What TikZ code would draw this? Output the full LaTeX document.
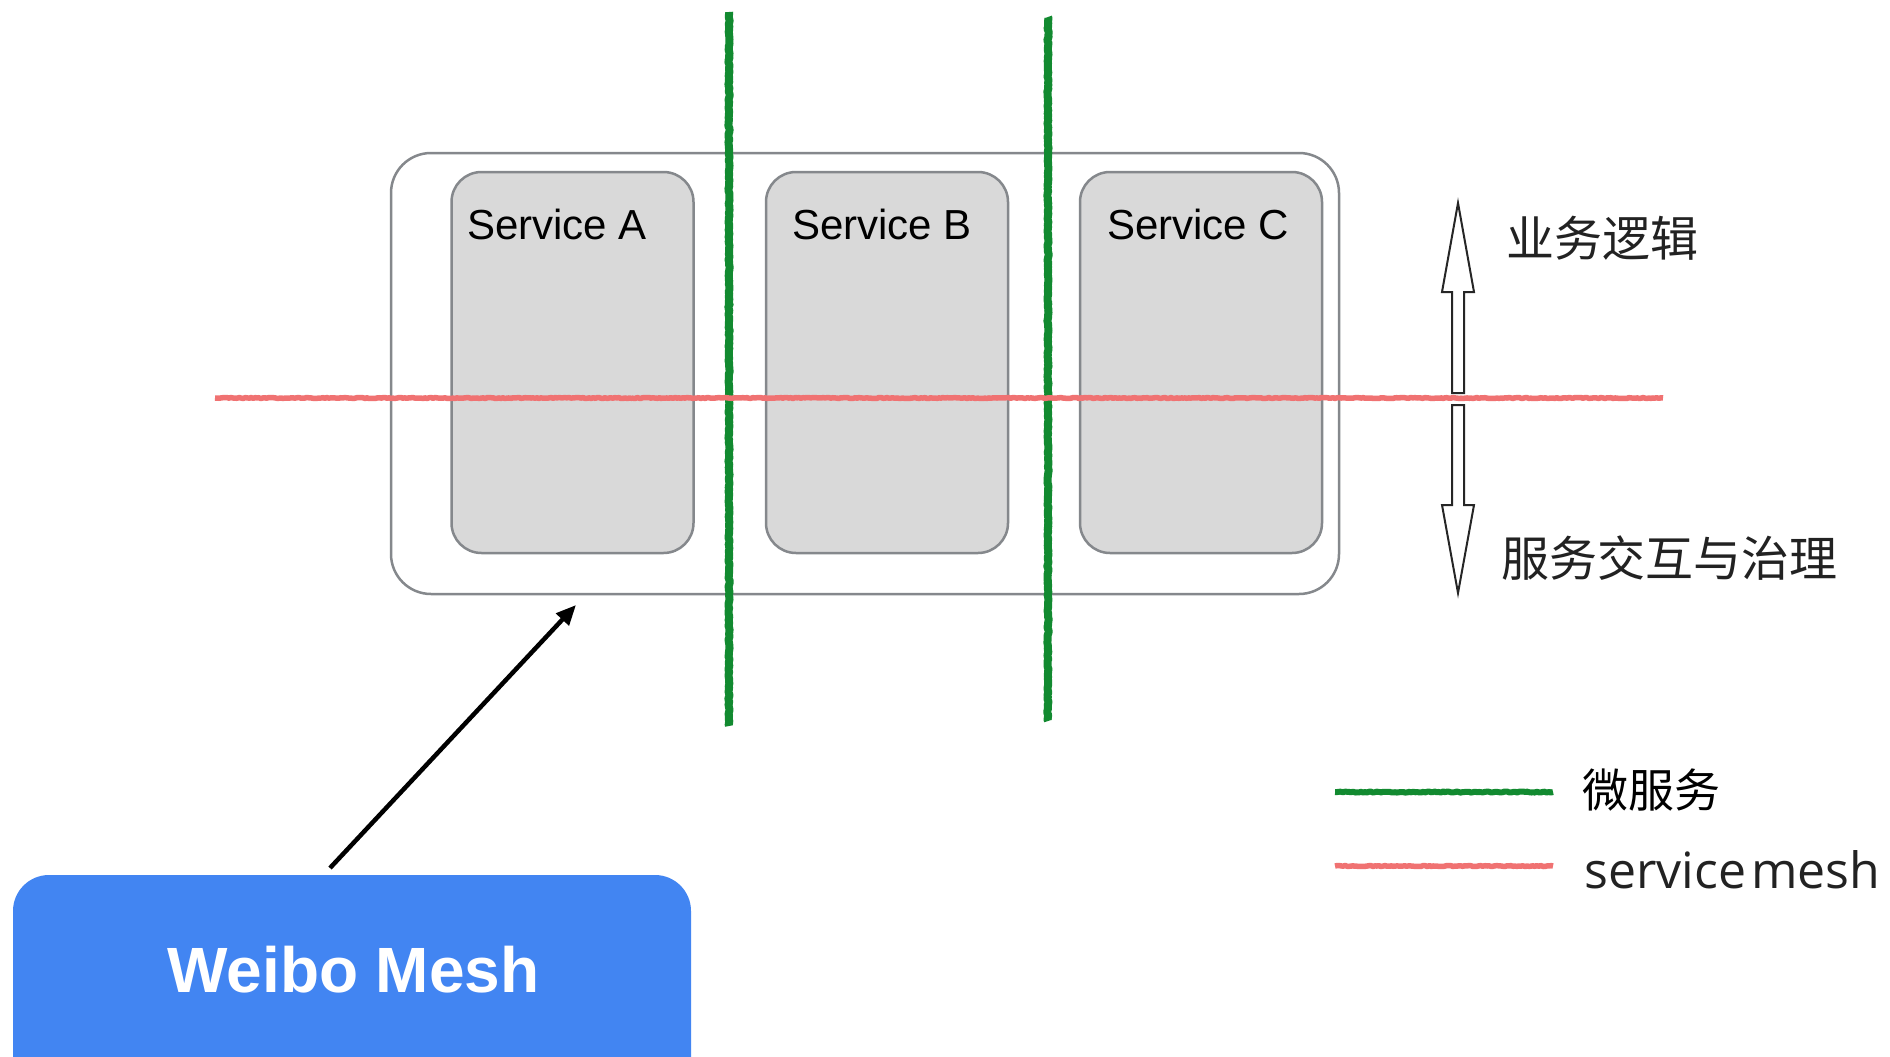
\documentclass[tikz,border=0pt]{standalone}
\usepackage{fontspec}
\setmainfont{Liberation Sans}
\newfontfamily\cjk{Noto Sans CJK SC}
\newfontfamily\legendfont{Open Sans}
\usetikzlibrary{arrows.meta,decorations.pathmorphing}
\definecolor{boxgray}{HTML}{D9D9D9}
\definecolor{edgegray}{HTML}{85888C}
\definecolor{msgreen}{HTML}{128A30}
\definecolor{meshred}{HTML}{F07272}
\definecolor{weiboblue}{HTML}{4285F2}
\definecolor{txtdark}{HTML}{222222}
\begin{document}
\pgfmathsetseed{7}
\begin{tikzpicture}[x=1pt,y=-1pt,
  outerbox/.style={draw=edgegray, line width=2.5pt, rounded corners=40pt, minimum width=948pt, minimum height=441pt, inner sep=0pt},
  svcbox/.style={draw=edgegray, fill=boxgray, line width=2.5pt, rounded corners=30pt, minimum width=242pt, minimum height=381pt, inner sep=0pt},
  svclabel/.style={anchor=base west, font=\fontsize{42}{50}\selectfont, inner sep=0pt},
  greenline/.style={msgreen, line width=8pt, line join=round, decorate, decoration={random steps, segment length=2pt, amplitude=0.6pt}},
  redline/.style={meshred, line width=5.5pt, line join=round, decorate, decoration={random steps, segment length=2pt, amplitude=0.5pt}},
  cjklabel/.style={anchor=west, font=\cjk\fontsize{48}{56}\selectfont, text=txtdark, inner sep=0pt},
  blockarrow/.style={draw=black!85, line width=2pt, fill=white, line join=miter},
  conn/.style={draw=black, line width=4.5pt, -{Triangle[length=20pt,width=17pt]}},
  weibobox/.style={fill=weiboblue, rounded corners=36pt, minimum width=678pt, minimum height=260pt, inner sep=0pt},
  weibotext/.style={anchor=base, text=white, font=\fontsize{64}{72}\selectfont\bfseries, inner sep=0pt}
]
\clip (0,0) rectangle (1890,1057);
\fill[white] (0,0) rectangle (1890,1057);

% boxes
\node[outerbox] (outer) at (865,373.5) {};
\node[svcbox] (svcA) at (572.5,362.5) {};
\node[svcbox] (svcB) at (887,362.5) {};
\node[svcbox] (svcC) at (1201,362.5) {};
\node[svclabel] (labA) at (467,239) {Service A};
\node[svclabel] (labB) at (792,239) {Service B};
\node[svclabel] (labC) at (1107,239) {Service C};

% microservice boundaries
\coordinate (g1top) at (729,12);
\coordinate (g1bot) at (729,726);
\coordinate (g2top) at (1048,17);
\coordinate (g2bot) at (1048,721);
\draw[greenline] (g1top) -- (g1bot);
\draw[greenline] (g2top) -- (g2bot);

% service mesh line
\coordinate (rleft) at (215,398);
\coordinate (rright) at (1663,398);
\draw[redline] (rleft) -- (rright);

% block arrows
\draw[blockarrow] (1458,203) -- (1474,292) -- (1464,292) -- (1464,393) -- (1452,393) -- (1452,292) -- (1442,292) -- cycle;
\draw[blockarrow] (1458,593) -- (1474,505) -- (1464,505) -- (1464,405) -- (1452,405) -- (1452,505) -- (1442,505) -- cycle;
\node[cjklabel] (biz) at (1506,238) {业务逻辑};
\node[cjklabel] (gov) at (1501,558) {服务交互与治理};

% legend
\coordinate (lg1) at (1335,792);
\coordinate (lg2) at (1553,792);
\coordinate (lr1) at (1335,866);
\coordinate (lr2) at (1553,866);
\draw[greenline, line width=6pt] (lg1) -- (lg2);
\draw[redline] (lr1) -- (lr2);
\node[anchor=west, font=\cjk\fontsize{46}{54}\selectfont, text=black, inner sep=0pt] (legms) at (1582,790) {微服务};
\node[anchor=base west, font=\legendfont\fontsize{50}{58}\selectfont, text=txtdark, inner sep=0pt] (legsm) at (1584,888) {service\hspace{5pt}mesh};

% Weibo Mesh
\node[weibobox] (weibo) at (352,1005) {};
\node[weibotext] (weibolab) at (353.5,992) {Weibo Mesh};
\coordinate (arrtail) at (330,868);
\coordinate (arrtip) at (576,605);
\draw[conn] (arrtail) -- (arrtip);
\end{tikzpicture}
\end{document}
